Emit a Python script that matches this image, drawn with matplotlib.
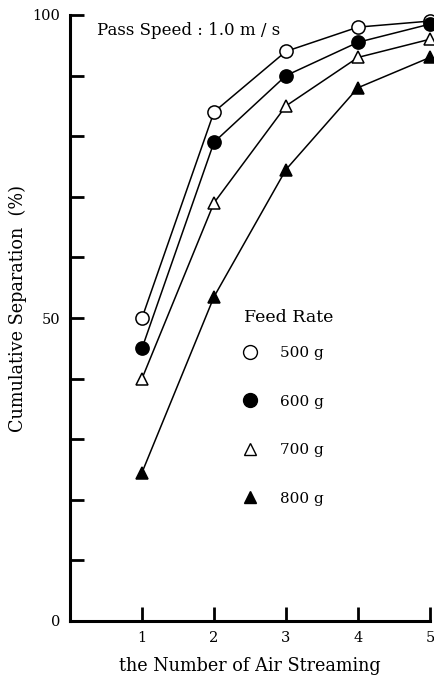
import matplotlib
matplotlib.use("Agg")
import matplotlib.pyplot as plt
from matplotlib.lines import Line2D

plt.rcParams['font.family'] = ['DejaVu Serif']

x = [1, 2, 3, 4, 5]
s500 = [50, 84, 94, 98, 99]
s600 = [45, 79, 90, 95.5, 98.5]
s700 = [40, 69, 85, 93, 96]
s800 = [24.5, 53.5, 74.5, 88, 93]
labels = ['500 g', '600 g', '700 g', '800 g']

fig = plt.figure(figsize=(4.34, 6.79), dpi=100)
ax = fig.add_axes([70/434, 58/679, 360/434, 606/679])

styles = [('o', 'white'), ('o', 'black'), ('^', 'white'), ('^', 'black')]
series = [s500, s600, s700, s800]
handles = []
for ys, (m, fc), lab in zip(series, styles, labels):
    ax.plot(x, ys, color='black', lw=1.1, marker=m, markersize=9.5 if m == 'o' else 9,
            markerfacecolor=fc, markeredgecolor='black', markeredgewidth=1.1, clip_on=False, zorder=3)
    handles.append(Line2D([], [], linestyle='none', marker=m, markersize=10 if m == 'o' else 9,
                          markerfacecolor=fc, markeredgecolor='black', markeredgewidth=1.0, label=lab))

ax.set_xlim(0, 5)
ax.set_ylim(0, 100)
ax.set_xticks([1, 2, 3, 4, 5])
ax.set_yticks(range(0, 101, 10))
ax.set_yticklabels(['0' if v == 0 else ('50' if v == 50 else ('100' if v == 100 else '')) for v in range(0, 101, 10)])
for s in ['top', 'right']:
    ax.spines[s].set_visible(False)
for s in ['left', 'bottom']:
    ax.spines[s].set_linewidth(2.2)
ax.tick_params(direction='in', length=10, width=2, labelsize=10.5, pad=7)

ax.set_xlabel('the Number of Air Streaming', fontsize=12.7, labelpad=9)
ax.set_ylabel('Cumulative Separation  (%)', fontsize=12.7)
ax.yaxis.set_label_coords(-0.12, 0.515)

ax.text(0.075, 0.988, 'Pass Speed : 1.0 m / s', transform=ax.transAxes, fontsize=12,
        va='top', ha='left')

ax.text(0.483, 0.50, 'Feed Rate', transform=ax.transAxes, fontsize=12.5,
        va='center', ha='left')
leg = ax.legend(handles=handles, frameon=False, loc='upper left',
                bbox_to_anchor=(0.43, 0.4765), fontsize=11,
                labelspacing=2.26, handletextpad=1.2, handlelength=1.5)

fig.savefig('out.png', dpi=100)
